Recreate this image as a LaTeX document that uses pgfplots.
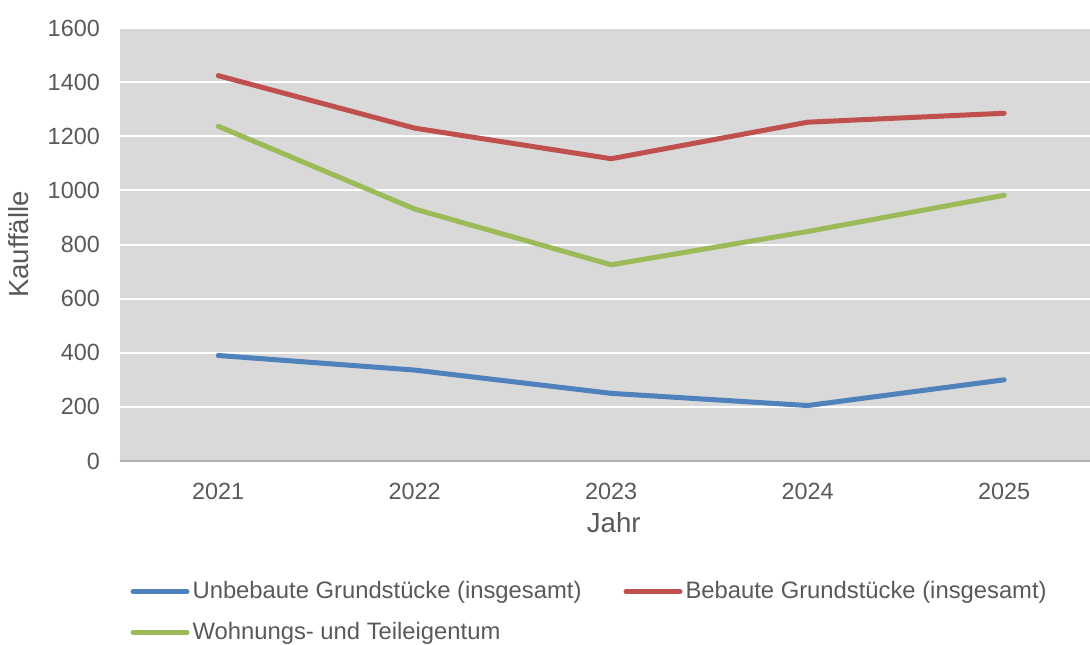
\documentclass[border=0pt]{standalone}
\usepackage{fontspec}
\setmainfont{Liberation Sans}
\usepackage{pgfplots}
\pgfplotsset{compat=1.18}
\definecolor{cblue}{HTML}{4F81BD}
\definecolor{cred}{HTML}{C0504D}
\definecolor{cgreen}{HTML}{9BBB59}
\definecolor{bgc}{HTML}{D9D9D9}
\definecolor{txt}{HTML}{595959}
\begin{document}
\fontsize{11.7}{14}\selectfont
\begin{tikzpicture}
\begin{axis}[
  name=ax,
  scale only axis,
  width=485pt, height=216.5pt,
  xmin=-0.5, xmax=4.437,
  ymin=0, ymax=1600,
  xtick={0,1,2,3,4},
  xticklabels={2021,2022,2023,2024,2025},
  ytick={0,200,...,1600},
  major tick length=0pt,
  axis x line*=bottom,
  axis y line*=left,
  x axis line style={-, draw=gray!60, line width=0.6pt},
  y axis line style={draw=none},
  axis background/.style={fill=bgc},
  ymajorgrids,
  grid style={white, line width=1pt},
  /pgf/number format/assume math mode=true,
  /pgf/number format/1000 sep={},
  ticklabel style={font=\fontsize{11.7}{14}\selectfont, text=txt},
  yticklabel style={xshift=-6pt},
  xticklabel style={yshift=-7pt},
  xlabel={Jahr},
  ylabel={Kauffälle},
  label style={font=\fontsize{13.8}{16}\selectfont, text=txt},
  xlabel style={at={(axis description cs:0.509,-0.143)}, anchor=center},
  ylabel style={at={(axis description cs:-0.104,0.5)}, anchor=center},
  legend columns=2,
  legend cell align=left,
  legend image code/.code={\draw[#1, line width=2.5pt, line cap=round] (0pt,0pt) -- (27pt,0pt);},
  legend style={draw=none, fill=none, at={(axis description cs:0.0105,-0.27)}, anchor=north west,
    font=\fontsize{11.9}{14}\selectfont, text=txt,
    /tikz/every even column/.append style={column sep=19.5pt},
    row sep=7pt, inner sep=0pt,
    nodes={inner sep=1.5pt}},
  every axis plot/.append style={line width=2.5pt, line cap=round, line join=round},
]
\addplot[cblue] coordinates {(0,390) (1,336) (2,250) (3,205) (4,300)};
\addlegendentry{Unbebaute Grundstücke (insgesamt)}
\addplot[cred] coordinates {(0,1424) (1,1230) (2,1117) (3,1252) (4,1285)};
\addlegendentry{Bebaute Grundstücke (insgesamt)}
\addplot[cgreen] coordinates {(0,1237) (1,931) (2,725) (3,848) (4,982)};
\addlegendentry{Wohnungs- und Teileigentum}
\end{axis}
\pgfresetboundingbox
\path (ax.south west) ++(-60pt,-91.5pt) coordinate (bl);
\path (ax.north east) ++(0pt,14pt) coordinate (tr);
\path[use as bounding box] (bl) rectangle (tr);
\end{tikzpicture}
\end{document}
